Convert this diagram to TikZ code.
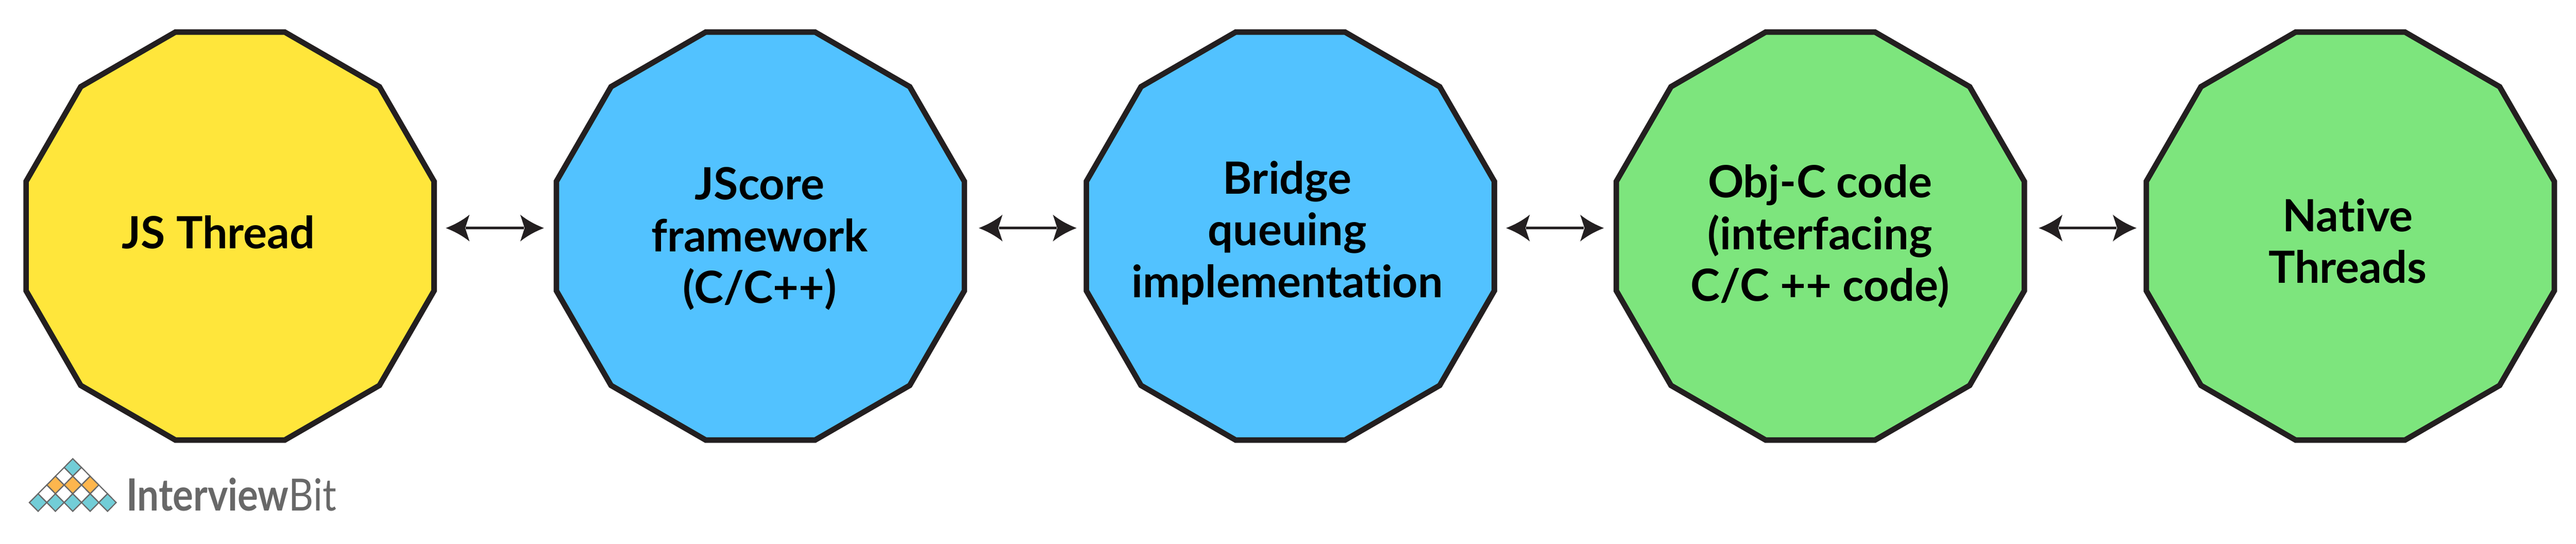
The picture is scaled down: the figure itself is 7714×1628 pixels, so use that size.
\documentclass[tikz,border=0pt]{standalone}
\usepackage{fontspec}
\setmainfont[Ligatures=NoCommon]{Lato}
\newfontfamily\logofont[FakeStretch=0.865]{Lato}
\usepackage{tikz}
\usetikzlibrary{shapes.geometric}
\definecolor{strokeblack}{HTML}{231F20}
\definecolor{threadyellow}{HTML}{FFE63B}
\definecolor{coreblue}{HTML}{52C2FF}
\definecolor{nativegreen}{HTML}{7DE57D}
\definecolor{logogrey}{HTML}{686868}
\definecolor{logoteal}{HTML}{72CDD7}
\definecolor{logoorange}{HTML}{FDB64E}
\pgfdeclarearrow{
  name=Barb,
  setup code={
    \pgfarrowssettipend{0pt}
    \pgfarrowssetlineend{-6pt}
    \pgfarrowssetvisualbackend{-6pt}
    \pgfarrowssetbackend{-7.1pt}
  },
  drawing code={
    \pgfpathmoveto{\pgfpoint{0pt}{0pt}}
    \pgfpathcurveto{\pgfpoint{-2.6pt}{1pt}}{\pgfpoint{-5pt}{2.3pt}}{\pgfpoint{-7.1pt}{4pt}}
    \pgfpathlineto{\pgfpoint{-5.8pt}{0pt}}
    \pgfpathlineto{\pgfpoint{-7.1pt}{-4pt}}
    \pgfpathcurveto{\pgfpoint{-5pt}{-2.3pt}}{\pgfpoint{-2.6pt}{-1pt}}{\pgfpoint{0pt}{0pt}}
    \pgfpathclose
    \pgfusepathqfill
  }
}
\tikzset{
  stage/.style={regular polygon, regular polygon sides=12, draw=strokeblack,
    line width=1.65pt, minimum size=126.5pt, inner sep=0pt, outer sep=0pt},
  caption/.style={font=\fontsize{13.3}{15.5}\selectfont\bfseries, align=center,
    inner sep=0pt, text=black},
  link/.style={{Barb}-{Barb}, draw=strokeblack, line width=0.8pt},
  cell/.style={draw=logogrey, line width=0.35pt, line join=miter}
}
\begin{document}
\begin{tikzpicture}[x=0.1pt,y=-0.1pt]
  \useasboundingbox (0,0) rectangle (7714,1628);

  \node[stage, fill=threadyellow] (jsthread) at (689,707) {};
  \node[stage, fill=coreblue] (jscore) at (2277,707) {};
  \node[stage, fill=coreblue] (bridge) at (3864,707) {};
  \node[stage, fill=nativegreen] (objc) at (5451,707) {};
  \node[stage, fill=nativegreen] (native) at (7038,707) {};

  \node[caption] (jsthreadtext) at (654,695) {JS Thread};
  \node[caption] (jscoretext) at (2275,715) {JScore\\framework\\(C/C++)};
  \node[caption] (bridgetext) at (3855,697) {Bridge\\queuing\\implementation};
  \node[caption] (objctext) at (5450,708) {Obj-C code\\(interfacing\\C/C ++ code)};
  \node[caption] (nativetext) at (7030,722) {Native\\Threads};

  \foreach \from/\to/\nudge in {jsthread/jscore/0,jscore/bridge/8,bridge/objc/0,objc/native/8}
    \draw[link] ([shift={(35+\nudge,-24)}]\from.east) -- ([shift={(-37+\nudge,-24)}]\to.west);

  \foreach \row/\shade in {0/logoteal,1/white,2/logoorange,3/white,4/logoteal}
    \foreach \col in {0,...,\row}
      \draw[cell, fill=\shade] ({218+52*\col-26*\row},{1400+26.25*\row}) ++(-26,0)
        -- ++(26,-26.25) -- ++(26,26.25) -- ++(-26,26.25) -- cycle;

  \node[anchor=base west, inner sep=0pt, text=logogrey,
    font=\fontsize{13.3}{15}\selectfont\logofont] (logotext) at (376,1529) {\textbf{Interview}Bit};
\end{tikzpicture}
\end{document}
